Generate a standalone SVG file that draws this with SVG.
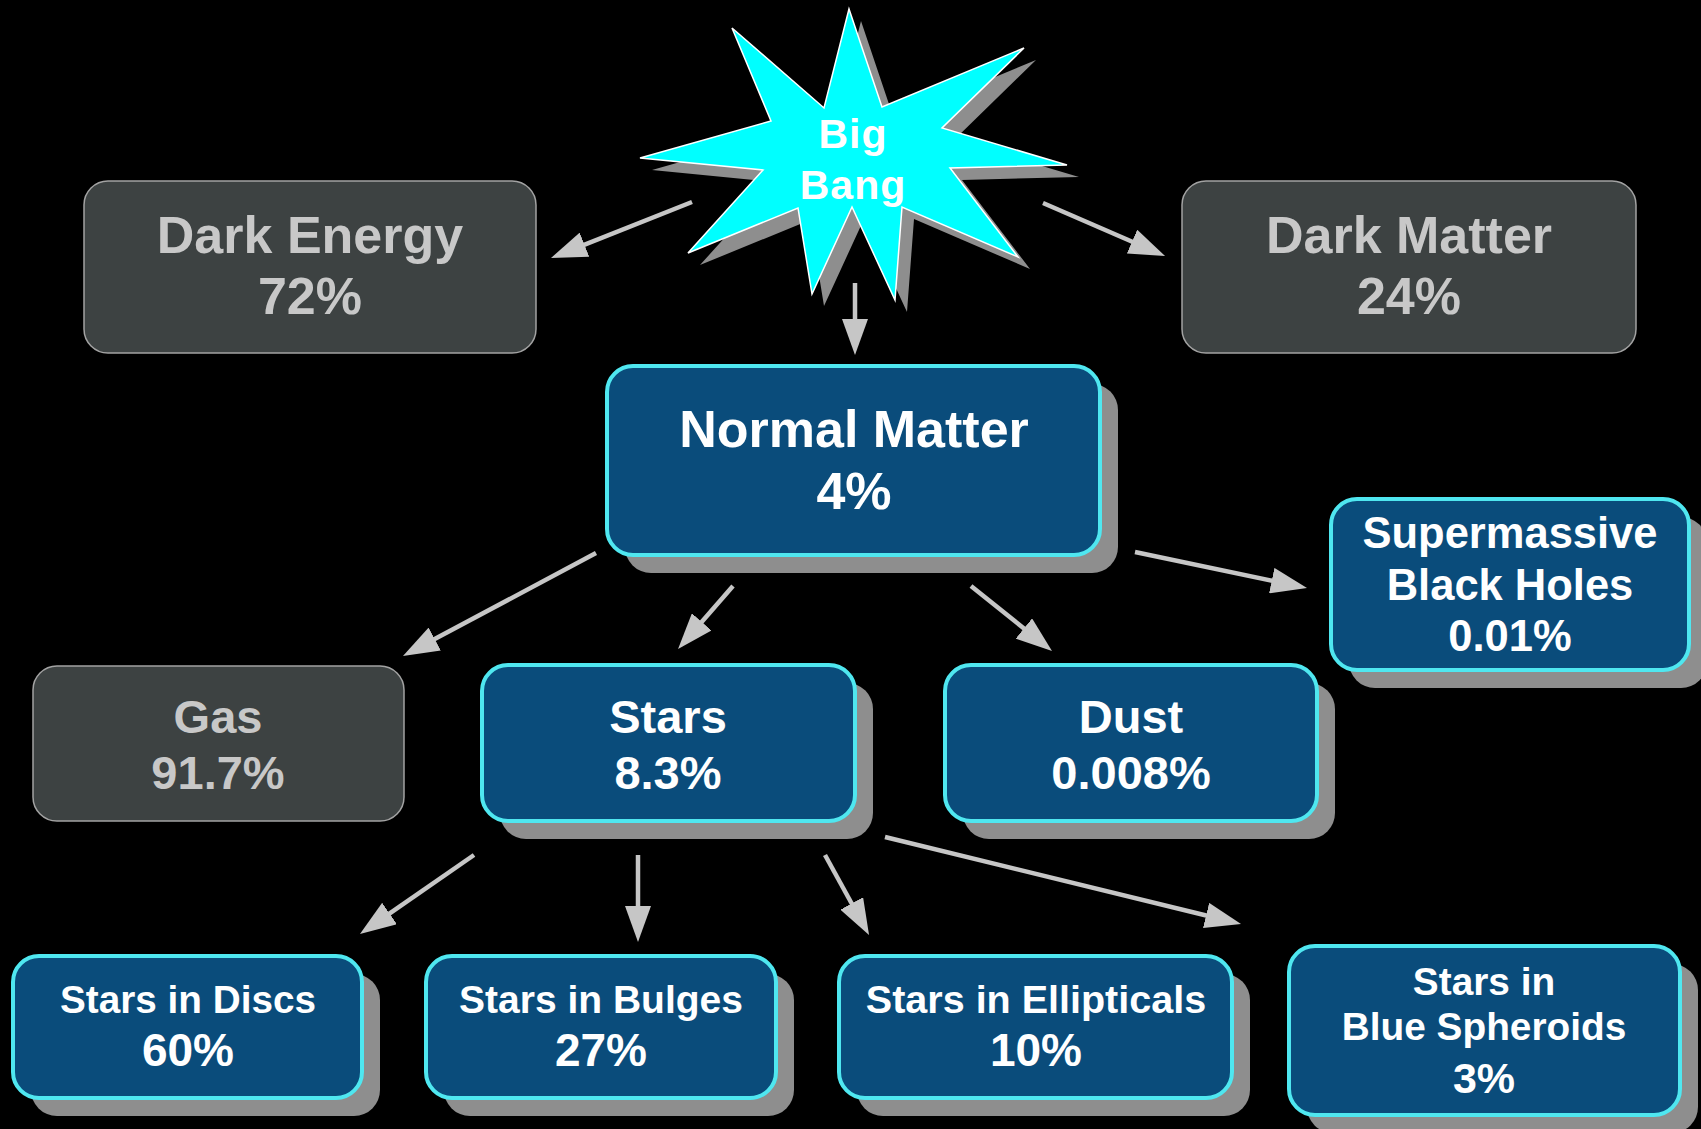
<svg xmlns="http://www.w3.org/2000/svg" width="1701" height="1129" viewBox="0 0 1701 1129">
<style>
.bg{fill:#000}
.grey{fill:#3d4242;stroke:#a3a3a3;stroke-width:1.5}
.blue{fill:#0a4c7b;stroke:#4fe7f0;stroke-width:4}
.shadow{fill:#8e8e8e}
.t{font-family:"Liberation Sans",Arial,Helvetica,sans-serif;font-weight:bold;text-anchor:middle}
.tg{fill:#c8c8c8}
.tw{fill:#ffffff}
.conn line{stroke:#c6c6c6;stroke-width:4.5;marker-end:url(#ah)}
</style>
<defs>
<marker id="ah" viewBox="0 0 36 26" refX="16" refY="13" markerWidth="36" markerHeight="26" markerUnits="userSpaceOnUse" orient="auto">
<path d="M0,0 L36,13 L0,26 Z" fill="#c6c6c6"/>
</marker>
</defs>
<rect class="bg" x="0" y="0" width="1701" height="1129"/>

<g id="big-bang">
<polygon class="shadow" transform="translate(12,12)" points="849,9 882,107 1024,48 942,128 1067,165 950,168 1018,257 902,207 895,300 852,207 812,294 798,208 688,253 763,170 640,158 771,121 732,28 824,108"/>
<polygon fill="#00ffff" stroke="#ffffff" stroke-width="1.5" points="849,9 882,107 1024,48 942,128 1067,165 950,168 1018,257 902,207 895,300 852,207 812,294 798,208 688,253 763,170 640,158 771,121 732,28 824,108"/>
<text class="t tw" x="853" y="148" font-size="41" letter-spacing="1">Big</text>
<text class="t tw" x="853" y="199" font-size="41" letter-spacing="1">Bang</text>
</g>

<g id="dark-energy">
<rect class="grey" x="84" y="181" width="452" height="172" rx="24"/>
<text class="t tg" x="310" y="253" font-size="52">Dark Energy</text>
<text class="t tg" x="310" y="314" font-size="52">72%</text>
</g>

<g id="dark-matter">
<rect class="grey" x="1182" y="181" width="454" height="172" rx="24"/>
<text class="t tg" x="1409" y="253" font-size="52">Dark Matter</text>
<text class="t tg" x="1409" y="314" font-size="52">24%</text>
</g>

<g id="normal-matter">
<rect class="shadow" x="625" y="384" width="493" height="189" rx="26"/>
<rect class="blue" x="607" y="366" width="493" height="189" rx="26"/>
<text class="t tw" x="854" y="447" font-size="52">Normal Matter</text>
<text class="t tw" x="854" y="509" font-size="52">4%</text>
</g>

<g id="supermassive-black-holes">
<rect class="shadow" x="1349" y="517" width="358" height="171" rx="26"/>
<rect class="blue" x="1331" y="499" width="358" height="171" rx="26"/>
<text class="t tw" x="1510" y="548" font-size="43.5">Supermassive</text>
<text class="t tw" x="1510" y="600" font-size="43.5">Black Holes</text>
<text class="t tw" x="1510" y="651" font-size="43.5">0.01%</text>
</g>

<g id="gas">
<rect class="grey" x="33" y="666" width="371" height="155" rx="24"/>
<text class="t tg" x="218" y="733" font-size="47">Gas</text>
<text class="t tg" x="218" y="789" font-size="47">91.7%</text>
</g>

<g id="stars">
<rect class="shadow" x="500" y="683" width="373" height="156" rx="26"/>
<rect class="blue" x="482" y="665" width="373" height="156" rx="26"/>
<text class="t tw" x="668" y="733" font-size="47">Stars</text>
<text class="t tw" x="668" y="789" font-size="47">8.3%</text>
</g>

<g id="dust">
<rect class="shadow" x="963" y="683" width="372" height="156" rx="26"/>
<rect class="blue" x="945" y="665" width="372" height="156" rx="26"/>
<text class="t tw" x="1131" y="733" font-size="47">Dust</text>
<text class="t tw" x="1131" y="789" font-size="47">0.008%</text>
</g>

<g id="stars-in-discs">
<rect class="shadow" x="31" y="974" width="349" height="142" rx="26"/>
<rect class="blue" x="13" y="956" width="349" height="142" rx="26"/>
<text class="t tw" x="188" y="1013" font-size="38.7">Stars in Discs</text>
<text class="t tw" x="188" y="1066" font-size="46">60%</text>
</g>

<g id="stars-in-bulges">
<rect class="shadow" x="444" y="974" width="350" height="142" rx="26"/>
<rect class="blue" x="426" y="956" width="350" height="142" rx="26"/>
<text class="t tw" x="601" y="1013" font-size="39">Stars in Bulges</text>
<text class="t tw" x="601" y="1066" font-size="46">27%</text>
</g>

<g id="stars-in-ellipticals">
<rect class="shadow" x="857" y="974" width="393" height="142" rx="26"/>
<rect class="blue" x="839" y="956" width="393" height="142" rx="26"/>
<text class="t tw" x="1036" y="1013" font-size="39.5">Stars in Ellipticals</text>
<text class="t tw" x="1036" y="1066" font-size="46">10%</text>
</g>

<g id="stars-in-blue-spheroids">
<rect class="shadow" x="1307" y="964" width="391" height="169" rx="26"/>
<rect class="blue" x="1289" y="946" width="391" height="169" rx="26"/>
<text class="t tw" x="1484" y="995" font-size="38.8">Stars in</text>
<text class="t tw" x="1484" y="1040" font-size="38.8">Blue Spheroids</text>
<text class="t tw" x="1484" y="1093" font-size="43">3%</text>
</g>

<g id="connectors" class="conn">
<line x1="692" y1="202" x2="569.6" y2="250.6"/>
<line x1="1043" y1="203" x2="1146.7" y2="248"/>
<line x1="855" y1="283" x2="855" y2="335"/>
<line x1="596" y1="553" x2="420.6" y2="646.6"/>
<line x1="733" y1="586" x2="691.2" y2="633.9"/>
<line x1="971" y1="586" x2="1036.4" y2="638.5"/>
<line x1="1135" y1="552" x2="1287.4" y2="583.9"/>
<line x1="474" y1="855" x2="376.4" y2="922.6"/>
<line x1="638" y1="855" x2="638" y2="922"/>
<line x1="825" y1="855" x2="859.4" y2="917.5"/>
<line x1="885" y1="837" x2="1221.6" y2="919.3"/>
</g>
</svg>
